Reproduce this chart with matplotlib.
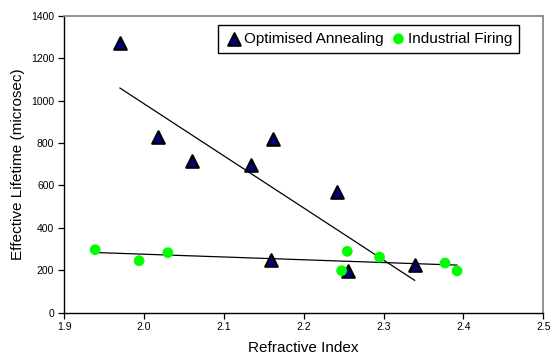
import matplotlib
matplotlib.use("Agg")
import matplotlib.pyplot as plt
import numpy as np

plt.rcParams['font.family'] = ['Liberation Sans', 'DejaVu Sans']

# Data
anneal_x = [1.970, 2.018, 2.060, 2.134, 2.162, 2.242, 2.159, 2.256, 2.339]
anneal_y = [1270, 830, 716, 698, 820, 567, 250, 198, 226]
firing_x = [1.939, 1.994, 2.030, 2.2475, 2.2546, 2.295, 2.377, 2.392]
firing_y = [297, 245, 283, 198, 289, 262, 234, 197]
x_ticks = [1.9, 2.0, 2.1, 2.2, 2.3, 2.4, 2.5]
x_ticklabels = ['1.9', '2.0', '2.1', '2.2', '2.3', '2.4', '2.5']
y_ticks = [0, 200, 400, 600, 800, 1000, 1200, 1400]

fig = plt.figure(figsize=(5.51, 3.55), dpi=100)
ax = fig.add_axes([0.1162, 0.1192, 0.986 - 0.1162, 0.9558 - 0.1192])

# Trend lines (linear regression over data range)
for xs, ys in [(anneal_x, anneal_y), (firing_x, firing_y)]:
    xs_a = np.array(xs)
    ys_a = np.array(ys)
    m, b = np.polyfit(xs_a, ys_a, 1)
    xr = np.array([xs_a.min(), xs_a.max()])
    ax.plot(xr, m * xr + b, color='black', lw=0.9, zorder=2)

ax.scatter(anneal_x, anneal_y, marker='^', s=80, facecolor='#000080',
           edgecolor='black', linewidths=1.6, zorder=3, label='Optimised Annealing')
ax.scatter(firing_x, firing_y, marker='o', s=60, facecolor='#00ff00',
           edgecolor='none', zorder=3, label='Industrial Firing')

ax.set_xlim(1.9, 2.5)
ax.set_ylim(0, 1400)
ax.set_xticks(x_ticks)
ax.set_xticklabels(x_ticklabels)
ax.set_yticks(y_ticks)
ax.tick_params(axis='both', labelsize=7.5, direction='out', length=4, width=0.9, pad=3)

for side in ['left', 'bottom']:
    ax.spines[side].set_color('black')
    ax.spines[side].set_linewidth(1.0)
for side in ['top', 'right']:
    ax.spines[side].set_color('#808080')
    ax.spines[side].set_linewidth(1.2)

ax.set_xlabel('Refractive Index', fontsize=11, labelpad=6)
ax.set_ylabel('Effective Lifetime (microsec)', fontsize=11, labelpad=4)

leg = ax.legend(loc='upper right', bbox_to_anchor=(0.949, 0.9687), borderaxespad=0,
                ncol=2, fontsize=11,
                frameon=True, fancybox=False, edgecolor='black', framealpha=1,
                handletextpad=0.0, columnspacing=0.4, borderpad=0.45,
                handlelength=1.2, scatterpoints=1)
leg.get_frame().set_linewidth(1.0)

fig.savefig('out.png', dpi=100)
